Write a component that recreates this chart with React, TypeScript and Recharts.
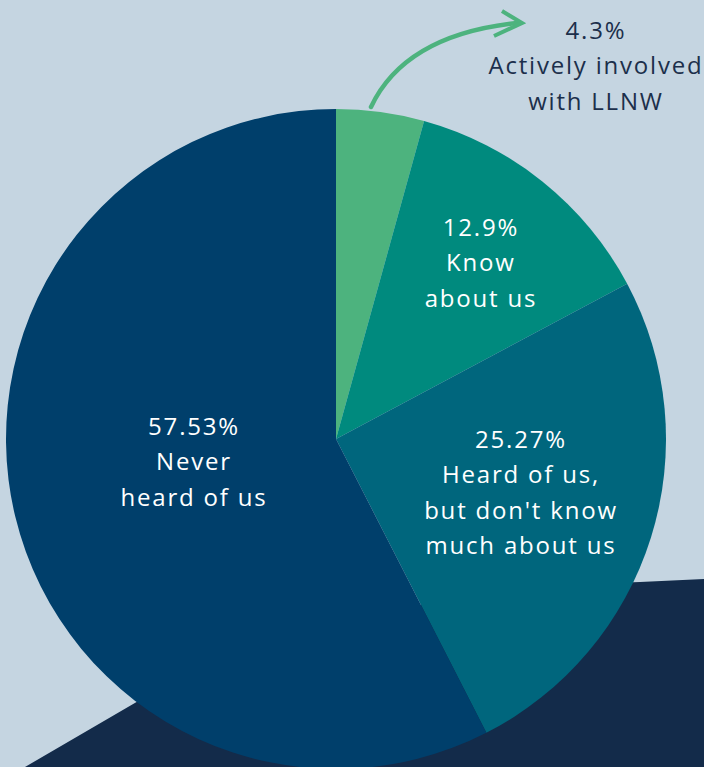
import { PieChart, Pie, Cell } from "recharts";

// awareness survey shares, clockwise from 12 o'clock
const shares = [4.3, 12.9, 25.27, 57.53];
const pctLabels = ["4.3%", "12.9%", "25.27%", "57.53%"];
const groupNames = [
  ["Actively involved", "with LLNW"],
  ["Know", "about us"],
  ["Heard of us,", "but don't know", "much about us"],
  ["Never", "heard of us"],
];

const COLORS = ["#4db37e", "#008a7e", "#00667d", "#003f6b"];
const BG = "#c5d5e1";
const BLOB = "#132b4a";

// where each label block sits: fraction of radius + angle (deg, ccw from east)
const LABEL_SPOTS = [
  { r: 1.379, a: 55.3, fill: "#1c2f4b" },
  { r: 0.692, a: 50.9, fill: "#ffffff" },
  { r: 0.58, a: -15.9, fill: "#ffffff" },
  { r: 0.438, a: 188.7, fill: "#ffffff" },
];

const W = 704;
const H = 767;
const CX = 336;
const CY = 439;
const R = 330;
const LINE = 35.5;

const chartData = shares.map((v, i) => ({
  name: groupNames[i].join(" "),
  value: v,
}));

function SliceLabel(props: any) {
  const { cx, cy, outerRadius, index } = props;
  const spot = LABEL_SPOTS[index];
  const rad = (Math.PI / 180) * spot.a;
  const x = cx + outerRadius * spot.r * Math.cos(rad);
  const y = cy - outerRadius * spot.r * Math.sin(rad);
  const lines = [pctLabels[index], ...groupNames[index]];
  const mid = (lines.length - 1) / 2;
  return (
    <text
      x={x}
      y={y}
      textAnchor="middle"
      fill={spot.fill}
      fontFamily="'Open Sans', sans-serif"
      fontSize={24}
      letterSpacing={1.8}
    >
      {lines.map((l, i) => (
        <tspan key={i} x={x + 0.9} y={y + (i - mid) * LINE} dominantBaseline="central">
          {l}
        </tspan>
      ))}
    </text>
  );
}

export default function App() {
  return (
    <div style={{ position: "relative", width: W, height: H, background: BG, overflow: "hidden" }}>
      <style>{"body{margin:0}"}</style>
      <svg width={W} height={H} style={{ position: "absolute", left: 0, top: 0 }}>
        <path d="M 25 767 L 140 700 Q 350 590 640 582 L 704 579 L 704 767 Z" fill={BLOB} />
      </svg>
      <div style={{ position: "absolute", left: 0, top: 0 }}>
        <PieChart width={W} height={H} margin={{ top: 0, right: 0, bottom: 0, left: 0 }}>
          <Pie
            data={chartData}
            dataKey="value"
            cx={CX}
            cy={CY}
            innerRadius={0}
            outerRadius={R}
            startAngle={90}
            endAngle={-270}
            stroke="none"
            label={SliceLabel}
            labelLine={false}
            isAnimationActive={false}
          >
            {chartData.map((entry, index) => (
              <Cell key={`cell-${index}`} fill={COLORS[index]} />
            ))}
          </Pie>
        </PieChart>
      </div>
      <svg width={W} height={H} style={{ position: "absolute", left: 0, top: 0, pointerEvents: "none" }}>
        <path d="M 371 107 Q 405 35 517 23" stroke="#4db37e" strokeWidth={4.5} fill="none" strokeLinecap="round" />
        <path d="M 502 11 L 522 23 L 494 36" stroke="#4db37e" strokeWidth={4} fill="none" strokeLinejoin="miter" />
      </svg>
    </div>
  );
}
